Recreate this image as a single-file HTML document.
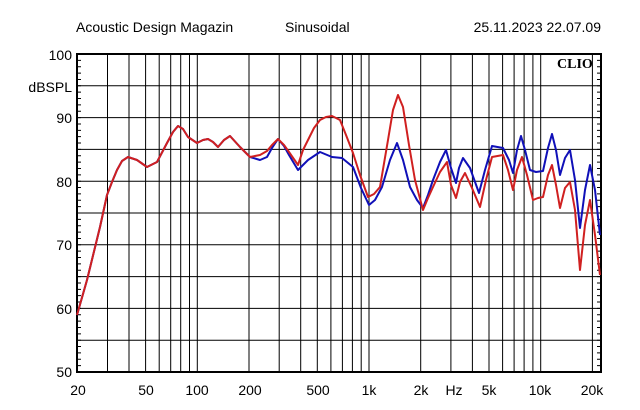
<!DOCTYPE html>
<html><head><style>
html,body{margin:0;padding:0;background:#fff;width:640px;height:410px;overflow:hidden}
text{font-family:"Liberation Sans",sans-serif;fill:#000}
</style></head><body>
<svg width="640" height="410" xmlns="http://www.w3.org/2000/svg">
<rect width="640" height="410" fill="#fff"/>
<text x="76" y="32" font-size="14">Acoustic Design Magazin</text>
<text x="285" y="32" font-size="14">Sinusoidal</text>
<text x="601" y="32" font-size="14" text-anchor="end">25.11.2023 22.07.09</text>
<g stroke="#000" stroke-width="1">
<line x1="77" x2="601" y1="85.8" y2="85.8"/><line x1="77" x2="601" y1="117.6" y2="117.6"/>
<line x1="77" x2="601" y1="149.4" y2="149.4"/><line x1="77" x2="601" y1="181.2" y2="181.2"/>
<line x1="77" x2="601" y1="213" y2="213"/><line x1="77" x2="601" y1="244.8" y2="244.8"/>
<line x1="77" x2="601" y1="276.6" y2="276.6"/><line x1="77" x2="601" y1="308.4" y2="308.4"/>
<line x1="77" x2="601" y1="340.2" y2="340.2"/>
<path d="M107.5,54V372 M129,54V372 M145.6,54V372 M159.2,54V372 M170.7,54V372 M180.7,54V372 M189.5,54V372 M197.3,54V372 M249,54V372 M279.2,54V372 M300.7,54V372 M317.3,54V372 M330.9,54V372 M342.4,54V372 M352.4,54V372 M361.2,54V372 M369,54V372 M420.7,54V372 M450.9,54V372 M472.4,54V372 M489,54V372 M502.6,54V372 M514.1,54V372 M524.1,54V372 M532.9,54V372 M540.7,54V372 M592.4,54V372"/>
</g>
<line x1="79" x2="79" y1="53.5" y2="373" stroke="#000" stroke-width="4" stroke-dasharray="1 5.36"/>
<line x1="599" x2="599" y1="53.5" y2="373" stroke="#000" stroke-width="4" stroke-dasharray="1 5.36"/>
<rect x="77" y="54" width="524" height="318" fill="none" stroke="#000" stroke-width="2"/>
<text x="557" y="68" font-size="14" font-weight="bold" style="font-family:'Liberation Serif',serif">CLIO</text>
<polyline fill="none" stroke="#1010b8" stroke-width="2" stroke-linejoin="round" points="77,315 87,280 100,227 107,195 112,182 117,170 122,161 128,157 137,160 147,167 157,162 167,143 173,132 178,126 183,129 188,137 197,143 203,140 208,139 213,142 218,147 224,140 230,136 240,147 250,157 260,160 267,157 272,148 278,139 284,146 289,155 298,170 308,160 320,152 332,157 342,158 353,167 361,188 369,205 375,200 382,187 390,160 397,143 403,160 410,187 417,200 423,208 428,195 433,180 440,162 446,150 451,168 456,183 459,168 463,158 470,168 479,193 485,170 492,146 503,148 509,160 513,173 517,150 521,136 525,150 530,170 536,172 543,171 548,148 552,134 556,150 560,175 565,158 570,150 575,180 580,228 585,190 590,165 595,190 600,235"/>
<polyline fill="none" stroke="#d02020" stroke-width="2" stroke-linejoin="round" points="77,315 87,280 100,227 107,195 112,182 117,170 122,161 128,157 137,160 147,167 157,162 167,143 173,132 178,126 183,129 188,137 197,143 203,140 208,139 213,142 218,147 224,140 230,136 240,147 250,157 260,155 267,151 272,145 278,139 284,145 289,152 298,165 303,150 308,140 314,128 320,120 326,117 332,116 340,120 346,135 353,153 360,175 368,197 374,194 380,187 388,140 393,110 398,95 403,107 409,145 415,180 423,210 428,198 433,187 440,172 447,162 451,185 456,198 460,182 465,173 472,188 480,207 486,180 492,157 503,155 508,170 513,190 517,170 522,157 527,175 533,200 538,198 543,197 548,175 552,165 556,185 560,208 565,188 570,182 575,210 580,270 585,225 590,200 595,235 600,275"/>
<text x="72" y="60" font-size="14" text-anchor="end">100</text>
<text x="72" y="92" font-size="14" text-anchor="end">dBSPL</text>
<text x="72" y="123" font-size="14" text-anchor="end">90</text>
<text x="72" y="187" font-size="14" text-anchor="end">80</text>
<text x="72" y="250" font-size="14" text-anchor="end">70</text>
<text x="72" y="314" font-size="14" text-anchor="end">60</text>
<text x="72" y="377" font-size="14" text-anchor="end">50</text>
<g font-size="14" text-anchor="middle">
<text x="78" y="395">20</text><text x="146" y="395">50</text><text x="197" y="395">100</text>
<text x="250" y="395">200</text><text x="318" y="395">500</text><text x="369" y="395">1k</text>
<text x="421" y="395">2k</text><text x="454" y="395">Hz</text><text x="489" y="395">5k</text>
<text x="540" y="395">10k</text><text x="592" y="395">20k</text>
</g>
</svg>
</body></html>
